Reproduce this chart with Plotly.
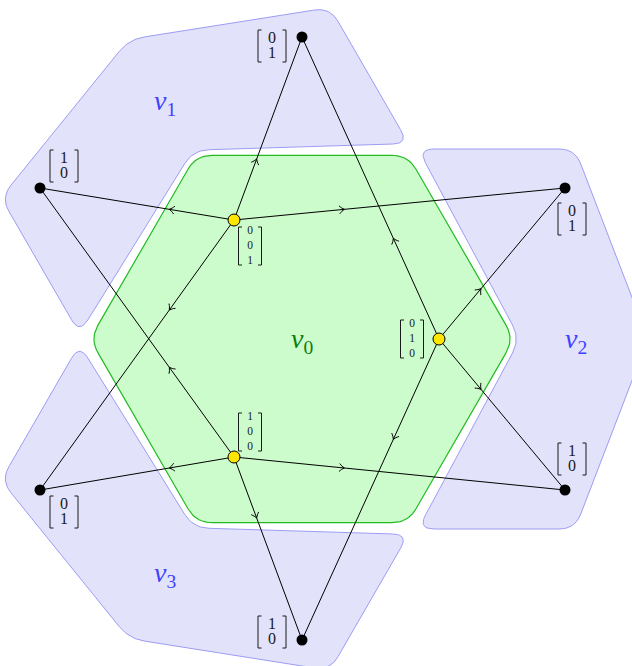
import numpy as np
import plotly.graph_objects as go

# ---------------- data (diagram coordinates, origin at the centre, y up) ----------------
outer_x = [0, 263, 263, 0, -262, -262]
outer_y = [302, 151, -151, -301, -151, 151]
outer_vec = [["0", "1"], ["0", "1"], ["1", "0"], ["1", "0"], ["0", "1"], ["1", "0"]]

inner_x = [-68, 137, -68]
inner_y = [119, 0, -118]
inner_vec = [["0", "0", "1"], ["0", "1", "0"], ["1", "0", "0"]]

# (inner node index, outer node index) ; arrows point from inner to outer
edges = [(0, 0), (0, 5), (0, 1), (0, 4),
         (1, 0), (1, 1), (1, 2), (1, 3),
         (2, 4), (2, 2), (2, 3), (2, 5)]

region_names = ["v<sub>0</sub>", "v<sub>1</sub>", "v<sub>2</sub>", "v<sub>3</sub>"]
region_label_x = [0, -137, 274, -137]
region_label_y = [-1, 237, -1, -235]

# ---------------- layout / style parameters ----------------
hex_radius = 212
region_v2 = [(218, 0), (116, 190), (273, 190), (346, 0), (273, -190), (116, -190)]
corner = 16

outer_label_off = [(-30, -9), (7, -31), (7, 31), (-30, 8), (24, -22), (24, 22)]
inner_label_off = [(16, -26), (-27, 0), (16, 25)]

BLUE_FILL = "#E2E2FA"
BLUE_LINE = "#9C9CF4"
GREEN_FILL = "#CCFBCC"
GREEN_LINE = "#22BB22"
SERIF = "Liberation Serif"
INK = "#1A1A1A"


def rounded(verts, d=corner, n=12):
    V = np.array(verts, dtype=float)
    k = len(V)
    xs, ys = [], []
    for i in range(k):
        v = V[i]
        p = V[i - 1]
        q = V[(i + 1) % k]
        a = v + d * (p - v) / np.linalg.norm(p - v)
        b = v + d * (q - v) / np.linalg.norm(q - v)
        for t in np.linspace(0, 1, n):
            pt = (1 - t) ** 2 * a + 2 * (1 - t) * t * v + t ** 2 * b
            xs.append(pt[0]); ys.append(pt[1])
    xs.append(xs[0]); ys.append(ys[0])
    return xs, ys


def rotate(verts, deg):
    th = np.radians(deg)
    c, s = np.cos(th), np.sin(th)
    return [(x * c - y * s, x * s + y * c) for x, y in verts]


fig = go.Figure()

# blue regions (v2 and its rotations)
for deg in (0, 120, -120):
    xs, ys = rounded(rotate(region_v2, deg))
    fig.add_trace(go.Scatter(x=xs, y=ys, mode="lines", fill="toself",
                             fillcolor=BLUE_FILL, line=dict(color=BLUE_LINE, width=1),
                             hoverinfo="skip", showlegend=False))

# green hexagon
hex_verts = [(hex_radius * np.cos(np.radians(a)), hex_radius * np.sin(np.radians(a)))
             for a in range(0, 360, 60)]
xs, ys = rounded(hex_verts)
fig.add_trace(go.Scatter(x=xs, y=ys, mode="lines", fill="toself",
                         fillcolor=GREEN_FILL, line=dict(color=GREEN_LINE, width=1.2),
                         hoverinfo="skip", showlegend=False))

# edges and arrowheads
ex, ey = [], []
ax, ay = [], []
for i, o in edges:
    p = np.array([inner_x[i], inner_y[i]], float)
    q = np.array([outer_x[o], outer_y[o]], float)
    ex += [p[0], q[0], None]
    ey += [p[1], q[1], None]
    u = (q - p) / np.linalg.norm(q - p)
    w = np.array([-u[1], u[0]])
    tip = p + (q - p) / 3.0
    for sgn in (1, -1):
        ctrl = tip - 1.8 * u + sgn * 0.6 * w
        end = tip - 5.0 * u + sgn * 4.0 * w
        for t in np.linspace(0, 1, 6):
            pt = (1 - t) ** 2 * tip + 2 * (1 - t) * t * ctrl + t ** 2 * end
            ax.append(pt[0]); ay.append(pt[1])
        ax.append(None); ay.append(None)

fig.add_trace(go.Scatter(x=ex, y=ey, mode="lines", line=dict(color="black", width=1),
                         hoverinfo="skip", showlegend=False))
fig.add_trace(go.Scatter(x=ax, y=ay, mode="lines", line=dict(color="black", width=1),
                         hoverinfo="skip", showlegend=False))

# nodes
fig.add_trace(go.Scatter(x=outer_x, y=outer_y, mode="markers",
                         marker=dict(color="black", size=11, line=dict(width=0)),
                         hoverinfo="skip", showlegend=False))
fig.add_trace(go.Scatter(x=inner_x, y=inner_y, mode="markers",
                         marker=dict(color="#FFE600", size=12, line=dict(color="black", width=1)),
                         hoverinfo="skip", showlegend=False))


# column-vector labels
def brackets(cx, cy, half_w, half_h):
    bx, by = [], []
    for side in (-1, 1):
        x0 = cx + side * half_w
        bx += [x0 - side * 3.5, x0, x0, x0 - side * 3.5, None]
        by += [cy + half_h, cy + half_h, cy - half_h, cy - half_h, None]
    return bx, by


# outer (2-entry) labels: one text per entry
BX, BY, TX, TY, TT = [], [], [], [], []
for x, y, v, (dx, dy) in zip(outer_x, outer_y, outer_vec, outer_label_off):
    cx, cy = x + dx, y + dy
    bx, by = brackets(cx, cy, 14, 16)
    BX += bx; BY += by
    TX += [cx, cx]
    TY += [cy + 7.5, cy - 8]
    TT += v
fig.add_trace(go.Scatter(x=BX, y=BY, mode="lines", line=dict(color=INK, width=1),
                         hoverinfo="skip", showlegend=False))
fig.add_trace(go.Scatter(x=TX, y=TY, mode="text", text=TT, textposition="middle center",
                         textfont=dict(family=SERIF, size=16, color=INK),
                         hoverinfo="skip", showlegend=False))

# inner (3-entry) labels: one stacked text per vector
BX, BY, TX, TY, TT = [], [], [], [], []
for x, y, v, (dx, dy) in zip(inner_x, inner_y, inner_vec, inner_label_off):
    cx, cy = x + dx, y + dy
    bx, by = brackets(cx, cy, 11.5, 19)
    BX += bx; BY += by
    TX.append(cx)
    TY.append(cy)
    TT.append("<br>".join(v))
fig.add_trace(go.Scatter(x=BX, y=BY, mode="lines", line=dict(color=INK, width=1),
                         hoverinfo="skip", showlegend=False))
fig.add_trace(go.Scatter(x=TX, y=TY, mode="text", text=TT, textposition="middle center",
                         textfont=dict(family=SERIF, size=11.5, color=INK),
                         hoverinfo="skip", showlegend=False))

# region labels
for name, x, y, k in zip(region_names, region_label_x, region_label_y, range(4)):
    fig.add_annotation(x=x, y=y, text="<i>" + name[0] + "</i>" + name[1:], showarrow=False,
                       font=dict(family=SERIF, size=28,
                                 color="#0A7F0A" if k == 0 else "#3F3FFF"))

fig.update_layout(
    width=632, height=666, margin=dict(l=0, r=0, t=0, b=0),
    paper_bgcolor="white", plot_bgcolor="white",
    xaxis=dict(range=[-302, 330], visible=False, fixedrange=True),
    yaxis=dict(range=[-327, 339], visible=False, fixedrange=True),
    showlegend=False,
)

fig.write_html("out.html", config={"displayModeBar": False},
               post_script="document.body.style.margin='0';document.body.style.overflow='hidden';")
